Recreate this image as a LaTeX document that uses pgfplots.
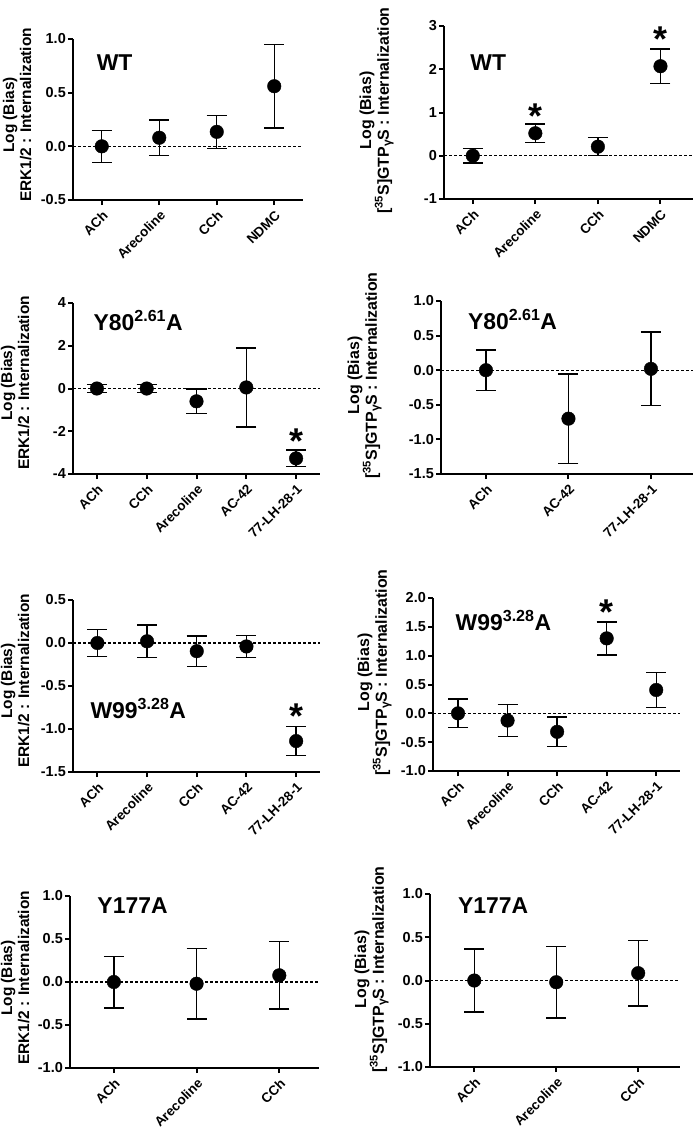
\documentclass[border=0pt]{standalone}
\usepackage{fontspec}
\setmainfont{Liberation Sans}
\usepackage{pgfplots}
\pgfplotsset{compat=1.18}
\newcommand\xtf{\fontsize{13.5}{15}\selectfont\bfseries}
\newcommand\ytf{\fontsize{14.5}{16}\selectfont\bfseries}
\newcommand\lbfa{\fontsize{15.5}{17.2}\selectfont\bfseries}
\newcommand\lbfb{\fontsize{16}{17.8}\selectfont\bfseries}
\newcommand\pf{\fontsize{23}{26}\selectfont\bfseries}
\newcommand\starfont{\fontsize{36}{36}\selectfont\bfseries}
\newcommand\gam{{\fontsize{12}{12}\selectfont\raisebox{-0.35ex}{γ}}}
\newcommand\gtp{[\textsuperscript{35}S]GTP\gam S : Internalization}
\pgfplotsset{
 panel/.style={
  scale only axis, clip=false, anchor=south west,
  axis x line*=bottom, axis y line*=left,
  axis line style={line width=2bp,-},
  tick style={line width=2bp, black},
  major tick length=5bp, tick align=outside,
  xticklabel style={rotate=45, anchor=north east, font=\xtf, inner sep=1bp},
  xticklabel shift=3bp,
  yticklabel style={font=\ytf, inner sep=2bp},
  /pgf/number format/assume math mode=true,
 },
 dec/.style={yticklabel style={/pgf/number format/.cd, fixed, fixed zerofill, precision=1}},
 ylaba/.style 2 args={ylabel style={font=\lbfa, align=center, at={([xshift=-#1, yshift=#2]axis description cs:0,0.5)}, anchor=south}},
 ylabb/.style 2 args={ylabel style={font=\lbfb, align=center, at={([xshift=-#1, yshift=#2]axis description cs:0,0.5)}, anchor=south}},
 dat/.style={only marks, black, mark=*, mark size=6.8bp, mark options={fill=black},
  error bars/.cd, y dir=both, y explicit,
  error bar style={line width=1.4bp, black},
  error mark options={mark size=10bp, line width=1.4bp, black, rotate=90}},
 zero/.style={black, dash pattern=on 3bp off 2bp, line width=1.2bp, no marks},
}
\begin{document}
\begin{tikzpicture}
\path[use as bounding box] (0,0) rectangle (693bp,-1136bp);

% Panel 1
\begin{axis}[panel, dec, ylaba={38bp}{4.5bp}, at={(73bp,-200bp)}, width=230bp, height=161bp,
  xmin=-0.5, xmax=3.5, ymin=-0.5, ymax=1.0, ytick={-0.5,0,0.5,1},
  xtick={0,1,2,3}, xticklabels={ACh,Arecoline,CCh,NDMC},
  ylabel={Log (Bias)\\ERK1/2 : Internalization}]
\addplot[zero] coordinates {(-0.5,0) (3.5,0)};
\addplot[dat] table[x=x, y=y, y error=e] {
x y e
0 0 0.15
1 0.08 0.165
2 0.135 0.155
3 0.56 0.39
};
\node[font=\pf, anchor=base west, inner sep=0pt] at (axis cs:-0.09,0.705) {WT};
\end{axis}

% Panel 2
\begin{axis}[panel, ylabb={47bp}{2bp}, at={(444bp,-199bp)}, width=249bp, height=173bp,
  xmin=-0.46, xmax=3.52, ymin=-1, ymax=3, ytick={-1,0,1,2,3},
  xtick={0,1,2,3}, xticklabels={ACh,Arecoline,CCh,NDMC},
  ylabel={Log (Bias)\\\gtp}]
\addplot[zero] coordinates {(-0.46,0) (3.52,0)};
\addplot[dat] table[x=x, y=y, y error=e] {
x y e
0 0 0.17
1 0.52 0.21
2 0.21 0.21
3 2.07 0.40
};
\node[font=\starfont, anchor=north, inner sep=0pt] at (axis cs:1,1.215) {*};
\node[font=\starfont, anchor=north, inner sep=0pt] at (axis cs:3,2.98) {*};
\node[font=\pf, anchor=base west, inner sep=0pt] at (axis cs:-0.04,1.98) {WT};
\end{axis}

% Panel 3
\begin{axis}[panel, ylaba={40bp}{5.5bp}, at={(73bp,-474bp)}, width=247bp, height=171bp,
  xmin=-0.48, xmax=4.48, ymin=-4, ymax=4, ytick={-4,-2,0,2,4},
  xtick={0,1,2,3,4}, xticklabels={ACh,CCh,Arecoline,AC-42,77-LH-28-1},
  ylabel={Log (Bias)\\ERK1/2 : Internalization}]
\addplot[zero] coordinates {(-0.48,0) (4.48,0)};
\addplot[dat] table[x=x, y=y, y error=e] {
x y e
0 0 0.2
1 0 0.2
2 -0.6 0.57
3 0.05 1.85
4 -3.27 0.39
};
\node[font=\starfont, anchor=north, inner sep=0pt] at (axis cs:4,-1.89) {*};
\node[font=\pf, anchor=base west, inner sep=0pt] at (axis cs:-0.07,2.71) {Y80\textsuperscript{2.61}A};
\end{axis}

% Panel 4
\begin{axis}[panel, dec, ylabb={56bp}{12bp}, at={(441bp,-474bp)}, width=252bp, height=173bp,
  xmin=-0.545, xmax=2.51, ymin=-1.5, ymax=1.0, ytick={-1.5,-1,-0.5,0,0.5,1},
  xtick={0,1,2}, xticklabels={ACh,AC-42,77-LH-28-1},
  ylabel={Log (Bias)\\\gtp}]
\addplot[zero] coordinates {(-0.545,0) (2.51,0)};
\addplot[dat] table[x=x, y=y, y error=e] {
x y e
0 0 0.29
1 -0.70 0.645
2 0.02 0.53
};
\node[font=\pf, anchor=base west, inner sep=0pt] at (axis cs:-0.22,0.587) {Y80\textsuperscript{2.61}A};
\end{axis}

% Panel 5
\begin{axis}[panel, dec, ylaba={40bp}{5bp}, at={(73bp,-772bp)}, width=247bp, height=172bp,
  xmin=-0.49, xmax=4.48, ymin=-1.5, ymax=0.5, ytick={-1.5,-1,-0.5,0,0.5},
  xtick={0,1,2,3,4}, xticklabels={ACh,Arecoline,CCh,AC-42,77-LH-28-1},
  ylabel={Log (Bias)\\ERK1/2 : Internalization}]
\addplot[zero] coordinates {(-0.49,0) (4.48,0)};
\addplot[dat] table[x=x, y=y, y error=e] {
x y e
0 0 0.16
1 0.02 0.19
2 -0.095 0.175
3 -0.04 0.13
4 -1.14 0.17
};
\node[font=\starfont, anchor=north, inner sep=0pt] at (axis cs:4,-0.707) {*};
\node[font=\pf, anchor=base west, inner sep=0pt] at (axis cs:-0.14,-0.88) {W99\textsuperscript{3.28}A};
\end{axis}

% Panel 6
\begin{axis}[panel, dec, ylabb={38bp}{12bp}, at={(433bp,-771bp)}, width=247bp, height=173bp,
  xmin=-0.505, xmax=4.48, ymin=-1, ymax=2, ytick={-1,-0.5,0,0.5,1,1.5,2},
  xtick={0,1,2,3,4}, xticklabels={ACh,Arecoline,CCh,AC-42,77-LH-28-1},
  ylabel={Log (Bias)\\\gtp}]
\addplot[zero] coordinates {(-0.505,0) (4.48,0)};
\addplot[dat] table[x=x, y=y, y error=e] {
x y e
0 0 0.25
1 -0.125 0.275
2 -0.32 0.257
3 1.30 0.285
4 0.405 0.30
};
\node[font=\starfont, anchor=north, inner sep=0pt] at (axis cs:3,1.977) {*};
\node[font=\pf, anchor=base west, inner sep=0pt] at (axis cs:-0.05,1.445) {W99\textsuperscript{3.28}A};
\end{axis}

% Panel 7
\begin{axis}[panel, dec, ylaba={37bp}{4bp}, at={(70bp,-1068bp)}, width=249bp, height=172bp,
  xmin=-0.53, xmax=2.48, ymin=-1, ymax=1, ytick={-1,-0.5,0,0.5,1},
  xtick={0,1,2}, xticklabels={ACh,Arecoline,CCh},
  ylabel={Log (Bias)\\ERK1/2 : Internalization}]
\addplot[zero] coordinates {(-0.53,0) (2.48,0)};
\addplot[dat] table[x=x, y=y, y error=e] {
x y e
0 0 0.30
1 -0.02 0.41
2 0.078 0.39
};
\node[font=\pf, anchor=base west, inner sep=0pt] at (axis cs:-0.2,0.80) {Y177A};
\end{axis}

% Panel 8
\begin{axis}[panel, dec, ylabb={38bp}{11bp}, at={(430bp,-1067bp)}, width=250bp, height=173bp,
  xmin=-0.54, xmax=2.51, ymin=-1, ymax=1, ytick={-1,-0.5,0,0.5,1},
  xtick={0,1,2}, xticklabels={ACh,Arecoline,CCh},
  ylabel={Log (Bias)\\\gtp}]
\addplot[zero] coordinates {(-0.54,0) (2.51,0)};
\addplot[dat] table[x=x, y=y, y error=e] {
x y e
0 0 0.365
1 -0.02 0.415
2 0.085 0.38
};
\node[font=\pf, anchor=base west, inner sep=0pt] at (axis cs:-0.2,0.777) {Y177A};
\end{axis}
\end{tikzpicture}
\end{document}
